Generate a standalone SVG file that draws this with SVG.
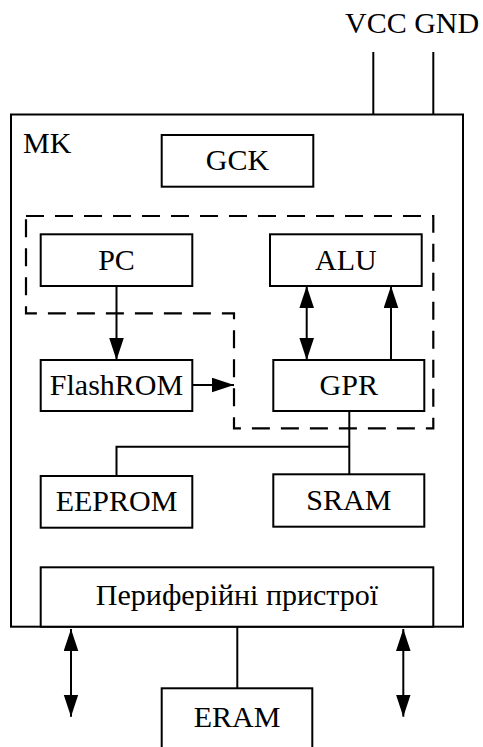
<svg xmlns="http://www.w3.org/2000/svg" width="483" height="747" viewBox="0 0 483 747">
  <style>
    .box { fill: #fff; stroke: #000; stroke-width: 2; }
    .frame { fill: none; stroke: #000; stroke-width: 2; }
    .dash { fill: none; stroke: #000; stroke-width: 2.2; stroke-dasharray: 18 11; }
    .wire { fill: none; stroke: #000; stroke-width: 2; }
    text { font-family: 'Liberation Serif', 'Times New Roman', serif; font-size: 30px; fill: #000; }
    .c { text-anchor: middle; }
  </style>
  <defs>
    <marker id="head" markerUnits="userSpaceOnUse" markerWidth="23" markerHeight="15" refX="22" refY="7.3" orient="auto-start-reverse">
      <path d="M0,0 L22,7.3 L0,14.6 Z" fill="#000"/>
    </marker>
  </defs>

  <rect width="483" height="747" fill="#fff"/>

  <!-- microcontroller enclosure -->
  <g id="mk">
    <rect class="frame" x="11" y="114.5" width="452" height="512.2"/>
    <text x="23" y="153.3">MK</text>
  </g>

  <!-- supply pins -->
  <g id="power">
    <text x="345" y="33">VCC GND</text>
  </g>

  <!-- CPU core boundary -->
  <g id="core">
    <path class="dash" d="M26,216 H433.3 V428.3 H234 V313.3 H26 Z"/>
  </g>

  <g id="gck">
    <rect class="box" x="161.7" y="135" width="151.6" height="51.7"/>
    <text class="c" x="237.5" y="170">GCK</text>
  </g>
  <g id="pc">
    <rect class="box" x="40.7" y="234.3" width="151.6" height="51.7"/>
    <text class="c" x="116.5" y="270">PC</text>
  </g>
  <g id="alu">
    <rect class="box" x="270" y="234.3" width="151.7" height="51.7"/>
    <text class="c" x="345.8" y="270">ALU</text>
  </g>
  <g id="flashrom">
    <rect class="box" x="40.7" y="360" width="151.6" height="51"/>
    <text class="c" x="116.5" y="394.5">FlashROM</text>
  </g>
  <g id="gpr">
    <rect class="box" x="273.3" y="360" width="151" height="51"/>
    <text class="c" x="348.8" y="394.5">GPR</text>
  </g>
  <g id="eeprom">
    <rect class="box" x="40.7" y="476" width="151.6" height="51.7"/>
    <text class="c" x="116.5" y="510.7">EEPROM</text>
  </g>
  <g id="sram">
    <rect class="box" x="273.3" y="474.3" width="151" height="52.4"/>
    <text class="c" x="348.8" y="510">SRAM</text>
  </g>
  <g id="periphery">
    <rect class="box" x="40.7" y="567.3" width="392.6" height="59.4"/>
    <text class="c" x="237" y="605">Периферійні пристрої</text>
  </g>
  <g id="eram">
    <rect class="box" x="161.7" y="688.3" width="150.6" height="70"/>
    <text class="c" x="237" y="726.7">ERAM</text>
  </g>

  <g id="connectors">
    <path class="wire" d="M373.3,52 V114.5"/>
    <path class="wire" d="M433.3,52 V114.5"/>
    <path class="wire" d="M116.5,286 V360" marker-end="url(#head)"/>
    <path class="wire" d="M192.3,385 H234" marker-end="url(#head)"/>
    <path class="wire" d="M306.7,286 V360" marker-start="url(#head)" marker-end="url(#head)"/>
    <path class="wire" d="M391,360 V286" marker-end="url(#head)"/>
    <path class="wire" d="M349.3,411 V474.3"/>
    <path class="wire" d="M116.5,476 V446.7 H349.3"/>
    <path class="wire" d="M71,629 V716.7" marker-start="url(#head)" marker-end="url(#head)"/>
    <path class="wire" d="M403.3,629 V716.7" marker-start="url(#head)" marker-end="url(#head)"/>
    <path class="wire" d="M237.3,626.7 V688.3"/>
  </g>
</svg>
